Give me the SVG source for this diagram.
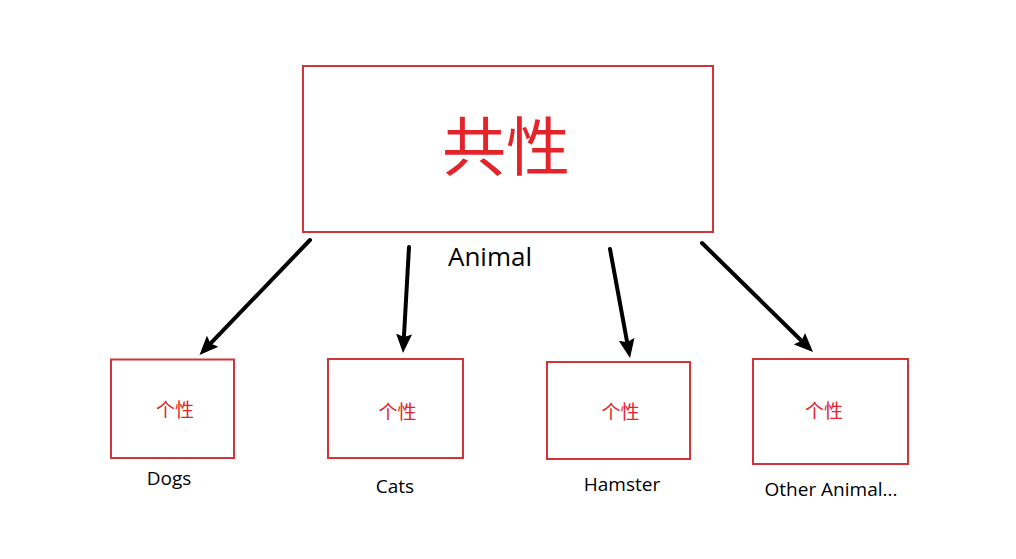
<svg xmlns="http://www.w3.org/2000/svg" width="1016" height="559" viewBox="0 0 1016 559">
<style>
.box{fill:#fff;stroke:#d3343a;stroke-width:2}
.cjk{font-family:"Noto Sans CJK SC","Microsoft YaHei",sans-serif;fill:#e3242b;text-anchor:middle}
.lbl{font-family:"Open Sans","Noto Sans",sans-serif;fill:#000;text-anchor:middle}
.arr{stroke:#000;stroke-width:4;fill:none;stroke-linecap:round;marker-end:url(#ah)}
</style>
<defs>
<marker id="ah" markerUnits="userSpaceOnUse" markerWidth="20" markerHeight="18" viewBox="0 0 20 18" refX="5" refY="9" orient="auto">
<path d="M0,1 L19,9 L0,17 L3,9 Z" fill="#000"/>
</marker>
</defs>
<rect width="1016" height="559" fill="#fff"/>
<g id="connectors">
<line class="arr" x1="310" y1="240" x2="209.2" y2="344.9"/>
<line class="arr" x1="409" y1="247" x2="403.8" y2="339"/>
<line class="arr" x1="610" y1="249" x2="627.5" y2="344.2"/>
<line class="arr" x1="702" y1="243" x2="803" y2="342.2"/>
</g>
<g id="node-common">
<rect class="box" x="303" y="66" width="410" height="166"/>
<text class="cjk" x="506" y="170" font-size="64">共性</text>
<text class="lbl" x="490" y="266" font-size="26">Animal</text>
</g>
<g id="node-dogs">
<rect class="box" x="111" y="359.5" width="123" height="98.5"/>
<text class="cjk" x="175" y="416.5" font-size="19">个性</text>
<text class="lbl" x="169" y="485" font-size="19">Dogs</text>
</g>
<g id="node-cats">
<rect class="box" x="328" y="359" width="135" height="99"/>
<text class="cjk" x="397.5" y="418.5" font-size="19">个性</text>
<text class="lbl" x="395" y="493" font-size="19">Cats</text>
</g>
<g id="node-hamster">
<rect class="box" x="547" y="362" width="143" height="97"/>
<text class="cjk" x="620.5" y="419" font-size="19">个性</text>
<text class="lbl" x="622" y="491" font-size="19">Hamster</text>
</g>
<g id="node-other">
<rect class="box" x="753" y="359" width="155" height="105"/>
<text class="cjk" x="824" y="418" font-size="19">个性</text>
<text class="lbl" x="831" y="496" font-size="19">Other Animal...</text>
</g>
</svg>
